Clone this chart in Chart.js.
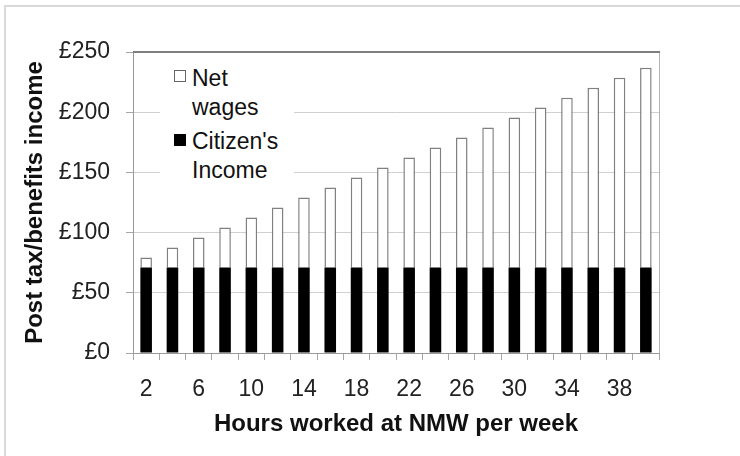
<!DOCTYPE html>
<html>
<head>
<meta charset="utf-8">
<script src="https://cdn.jsdelivr.net/npm/chart.js@4"></script>
<style>
  html, body { margin: 0; padding: 0; background: #fff; }
  #wrap { position: relative; width: 740px; height: 456px; font-family: "Liberation Sans", Arial, sans-serif; }
  #edge { position: absolute; left: 4px; top: 5px; right: 0; bottom: 0; border-left: 2px solid #d9d9d9; border-top: 2px solid #d9d9d9; }
  #legend { position: absolute; left: 160px; top: 58px; width: 134px; height: 128px; background: #fff; }
  .sq { position: absolute; width: 10px; height: 10px; }
  .lbl { position: absolute; font-size: 23px; line-height: 29px; color: #111; white-space: nowrap; }
</style>
</head>
<body>
<div id="wrap">
  <div id="edge"></div>
  <canvas id="incomeChart"></canvas>
  <div id="legend">
    <div class="sq" style="left:14px;top:12px;border:1px solid #666;background:#fff;"></div>
    <div class="lbl" style="left:32px;top:6px;">Net<br>wages</div>
    <div class="sq" style="left:14px;top:76px;border:1px solid #000;background:#000;"></div>
    <div class="lbl" style="left:32px;top:69px;">Citizen's<br>Income</div>
  </div>
</div>
<script>
// ---------- DATA ----------
const hours = ["2", "4", "6", "8", "10", "12", "14", "16", "18", "20",
               "22", "24", "26", "28", "30", "32", "34", "36", "38", "40"];

const citizensIncome = [71, 71, 71, 71, 71, 71, 71, 71, 71, 71,
                        71, 71, 71, 71, 71, 71, 71, 71, 71, 71];

const netWages = [8.3, 16.6, 24.9, 33.2, 41.5, 49.8, 58.1, 66.4, 74.7, 83.0,
                  91.3, 99.6, 107.9, 116.2, 124.5, 132.8, 141.1, 149.4, 157.7, 166.0];

const yTicks = [0, 50, 100, 150, 200, 250];

// ---------- FONTS ----------
const FONT = '"Liberation Sans", Arial, sans-serif';

// ---------- FRAME (top + right edge of plot) ----------
const framePlugin = {
  id: "frame",
  afterDraw(chart) {
    const { ctx, chartArea } = chart;
    ctx.save();
    ctx.strokeStyle = "#b3b3b3";
    ctx.lineWidth = 1;
    ctx.beginPath();
    ctx.moveTo(chartArea.right + 0.5, chartArea.top);
    ctx.lineTo(chartArea.right + 0.5, chartArea.bottom);
    ctx.stroke();
    ctx.strokeStyle = "#7f7f7f";
    ctx.lineWidth = 2;
    ctx.beginPath();
    ctx.moveTo(chartArea.left, chartArea.top);
    ctx.lineTo(chartArea.right + 1, chartArea.top);
    ctx.stroke();
    ctx.restore();
  },
};

// ---------- CREATE CHART ----------
const ctx = document.getElementById("incomeChart").getContext("2d");

new Chart(ctx, {
  type: "bar",
  data: {
    labels: hours,
    datasets: [
      {
        label: "Citizen's Income",
        data: citizensIncome,
        backgroundColor: "#000",
        borderWidth: 0,
        barPercentage: 0.44,
        categoryPercentage: 1,
      },
      {
        label: "Net wages",
        data: netWages,
        backgroundColor: "#fff",
        borderColor: "#808080",
        borderWidth: 1.5,
        barPercentage: 0.44,
        categoryPercentage: 1,
      },
    ],
  },
  options: {
    responsive: true,
    maintainAspectRatio: false,
    animation: false,
    layout: {
      padding: { top: 52, right: 81, left: 0, bottom: 0 },
    },
    plugins: {
      legend: { display: false },
      tooltip: { enabled: false },
    },
    scales: {
      x: {
        stacked: true,
        afterFit: (scale) => { scale.height = 103; },
        grid: {
          offset: true,
          drawOnChartArea: false,
          tickLength: 7,
          color: "#a6a6a6",
        },
        border: { color: "#9a9a9a" },
        ticks: {
          autoSkip: false,
          maxRotation: 0,
          padding: 16,
          color: "#222",
          font: { family: FONT, size: 23 },
          callback: function (value, index) {
            return index % 2 === 0 ? hours[index] : "";
          },
        },
        title: {
          display: true,
          text: "Hours worked at NMW per week",
          color: "#111",
          font: { family: FONT, size: 24, weight: "bold" },
          padding: { top: 0, bottom: 17 },
        },
      },
      y: {
        stacked: true,
        min: 0,
        max: 250,
        afterFit: (scale) => { scale.width = 133; },
        afterBuildTicks: (scale) => {
          scale.ticks = yTicks.map((v) => ({ value: v }));
        },
        grid: {
          color: "#d0d0d0",
          tickColor: "#a6a6a6",
          tickLength: 7,
        },
        border: { color: "#9a9a9a" },
        ticks: {
          padding: 16,
          color: "#222",
          font: { family: FONT, size: 23 },
          callback: (value) => "£" + value,
        },
        title: {
          display: true,
          text: "Post tax/benefits income",
          color: "#111",
          font: { family: FONT, size: 24, weight: "bold" },
          padding: { top: 21, bottom: 0 },
        },
      },
    },
  },
  plugins: [framePlugin],
});
</script>
</body>
</html>
